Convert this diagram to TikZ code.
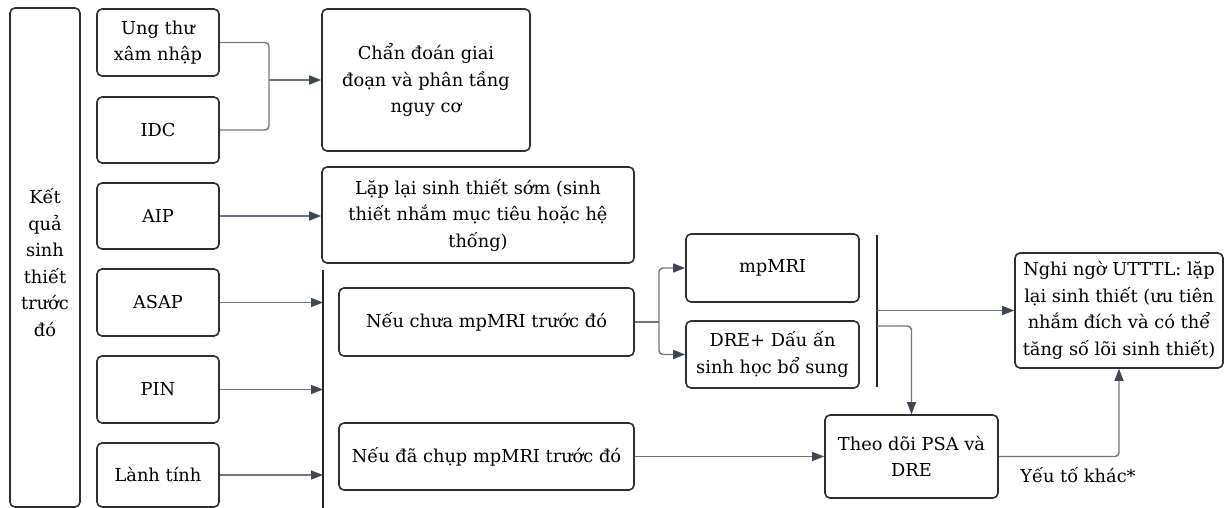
\documentclass[tikz,border=0pt]{standalone}
\usepackage{fontspec}
\setmainfont{DejaVu Serif}
\usetikzlibrary{arrows.meta}

\definecolor{boxline}{HTML}{2E2E2E}
\definecolor{wirecol}{HTML}{6E747E}
\definecolor{tipcol}{HTML}{3F4654}

\begin{document}
\begin{tikzpicture}[x=1pt,y=-1pt,
  box/.style={draw=boxline, line width=1.6pt, rounded corners=5pt, align=center,
    inner sep=0pt, font=\fontsize{17.8}{26.5}\selectfont},
  wire/.style={draw=wirecol, line width=1.4pt},
  arr/.style={wire, -{Triangle[length=12pt,width=9pt,fill=tipcol,color=tipcol]}},
  bar/.style={draw=black!85, line width=1.8pt},
  lbl/.style={font=\fontsize{17.8}{26.5}\selectfont, inner sep=0pt}]

\useasboundingbox (0,0) rectangle (1228,508);

% left column
\node[box, minimum width=70pt, minimum height=499pt] (res) at (45,257.5)
  {\rule{0pt}{25pt}Kết\\quả\\sinh\\thiết\\trước\\đó};
\node[box, minimum width=122pt, minimum height=67pt] (ung) at (158,42.5) {Ung thư\\xâm nhập};
\node[box, minimum width=122pt, minimum height=66pt] (idc) at (158,130) {IDC};
\node[box, minimum width=122pt, minimum height=66pt] (aip) at (158,216) {AIP};
\node[box, minimum width=122pt, minimum height=67pt] (asap) at (158,302.5) {ASAP};
\node[box, minimum width=122pt, minimum height=67pt] (pin) at (158,389.5) {PIN};
\node[box, minimum width=122pt, minimum height=64pt] (lanh) at (158,475) {Lành tính};

% second column
\node[box, minimum width=208pt, minimum height=142pt] (chan) at (426,80)
  {Chẩn đoán giai\\đoạn và phân tầng\\nguy cơ};
\node[box, minimum width=312pt, minimum height=96pt] (lap) at (478,215)
  {Lặp lại sinh thiết sớm (sinh\\thiết nhắm mục tiêu hoặc hệ\\thống)};
\node[box, minimum width=295pt, minimum height=68pt] (chua) at (486.5,322) {Nếu chưa mpMRI trước đó};
\node[box, minimum width=295pt, minimum height=67pt] (da) at (486.5,456.5) {Nếu đã chụp mpMRI trước đó};

% right part
\node[box, minimum width=173pt, minimum height=68pt] (mpmri) at (772.5,268) {mpMRI};
\node[box, minimum width=173pt, minimum height=67pt] (dre) at (772.5,354.5) {DRE+ Dấu ấn\\sinh học bổ sung};
\node[box, minimum width=173pt, minimum height=83pt] (theo) at (911.5,456.5) {Theo dõi PSA và\\DRE};
\node[box, minimum width=208pt, minimum height=115pt] (nghi) at (1119,310.5)
  {Nghi ngờ UTTTL: lặp\\lại sinh thiết (ưu tiên\\nhắm đích và có thể\\tăng số lõi sinh thiết)};

% connectors
\coordinate (j1) at (269,80);
\draw[wire, rounded corners=4pt] (ung.east) -| (j1) |- (idc.east);
\draw[arr] (j1) -- (chan.west);
\draw[arr] (aip.east) -- (aip.east -| lap.west);

\coordinate (b1t) at (323,270);
\coordinate (b1b) at (323,508);
\draw[bar] (b1t) -- (b1b);
\draw[arr] (asap.east) -- (asap.east -| b1t);
\draw[arr] (pin.east) -- (pin.east -| b1t);
\draw[arr] (lanh.east) -- (lanh.east -| b1t);

\coordinate (j2) at (659,322);
\draw[wire] (chua.east) -- (j2);
\draw[arr, rounded corners=4pt] (j2) |- (mpmri.west);
\draw[arr, rounded corners=4pt] (j2) |- (dre.west);

\coordinate (b2t) at (877,235);
\coordinate (b2b) at (877,387);
\coordinate (b2o) at (877,326);
\draw[bar] (b2t) -- (b2b);
\draw[arr] (nghi.west -| b2t) -- (nghi.west);
\draw[arr, rounded corners=4pt] (b2o) -| (theo.north);
\draw[arr] (da.east) -- (theo.west);
\draw[arr, rounded corners=4pt] (theo.east) -| (nghi.south);
\node[lbl] (yeu) at (1078,475) {Yếu tố khác*};
\end{tikzpicture}
\end{document}
